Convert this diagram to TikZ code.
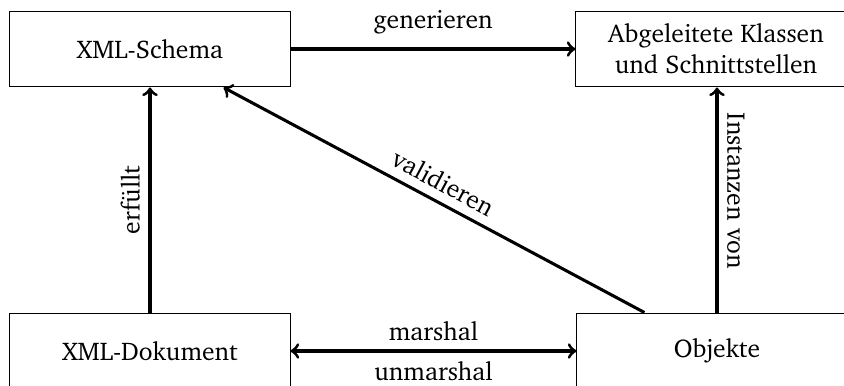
\documentclass[tikz,border=0pt]{standalone}
\usepackage[T1]{fontenc}
\usepackage{charter}
\usetikzlibrary{calc}
\begin{document}
\begin{tikzpicture}[x=0.391pt,y=0.391pt,
  box/.style={draw=black, line width=0.4pt, minimum width=109.5pt, minimum height=29.7pt,
    inner sep=0pt, align=center},
  arr/.style={->, very thick},
  darr/.style={<->, very thick}]
  \useasboundingbox (0,0) rectangle (844,385);
  \clip (0,0) rectangle (844,385);

  % the four boxes
  \node[box] (schema) at (150,336) {XML-Schema};
  \node[box] (klassen) at (716,336) {Abgeleitete Klassen\\und Schnittstellen};
  \node[box] (dok) at (150,34) {XML-Dokument};
  \node[box] (obj) at (717,34) {Objekte};

  % connectors
  \draw[arr] (schema) -- (klassen) node[midway, above, yshift=2pt] {generieren};
  \draw[arr] (dok) -- (schema) node[midway, above, rotate=90] {erf\"ullt};
  \draw[arr] (obj.north) -- (obj.north |- klassen.south)
    node[pos=0.54, above, rotate=-90] {Instanzen von};
  \coordinate (vstart) at ($(obj.north west)+(68,0)$);
  \coordinate (vend) at ($(schema.south east)+(-67,0)$);
  \draw[arr] (vstart) -- (vend) node[midway, sloped, above] {validieren};
  \draw[darr] (dok) -- (obj)
    node[midway, above] {marshal}
    node[midway, below] {unmarshal};
\end{tikzpicture}
\end{document}
